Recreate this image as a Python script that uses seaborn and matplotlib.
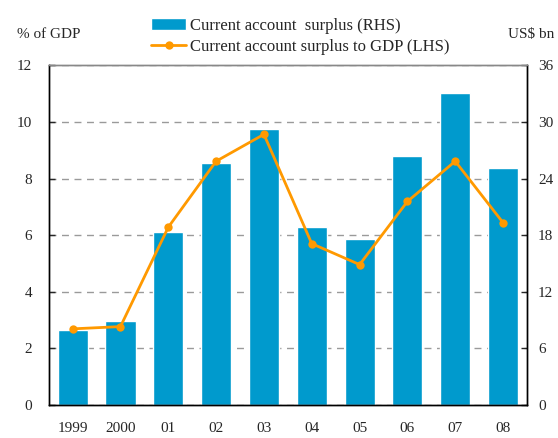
import numpy as np
import pandas as pd
import matplotlib
matplotlib.use("Agg")
import matplotlib.pyplot as plt
from matplotlib.ticker import FixedLocator
import seaborn as sns

years = ["1999", "2000", "01", "02", "03", "04", "05", "06", "07", "08"]
surplus_usd = [8.0, 8.85, 18.3, 25.6, 29.2, 18.85, 17.55, 26.35, 33.05, 25.1]
surplus_pct = [2.69, 2.77, 6.28, 8.61, 9.56, 5.70, 4.96, 7.19, 8.61, 6.44]
left_ticks = [0, 2, 4, 6, 8, 10, 12]
right_ticks = [0, 6, 12, 18, 24, 30, 36]

bar_label = "Current account  surplus (RHS)"
line_label = "Current account surplus to GDP (LHS)"

df = pd.DataFrame({"year": years, "usd": surplus_usd, "pct": surplus_pct})

sns.set_style("white")
plt.rcParams["font.family"] = ["Liberation Serif", "DejaVu Serif"]
plt.rcParams["font.size"] = 11

fig = plt.figure(figsize=(5.58, 4.38), dpi=100)
ax = fig.add_axes([0.0873, 0.0753, 0.8571, 0.7757])
ax2 = ax.twinx()

# bars on the right axis, gridlines behind them
sns.barplot(data=df, x="year", y="usd", ax=ax2, color="#009ACD", width=0.63,
            saturation=1, label=bar_label)
ax2.set_ylim(0, 36)
ax2.yaxis.set_major_locator(FixedLocator(right_ticks))
ax2.set_axisbelow(True)
ax2.yaxis.grid(True, linestyle=(0, (5, 4)), color="#9a9a9a", linewidth=1)
ax2.set_ylabel("")
if ax2.get_legend() is not None:
    ax2.get_legend().remove()

# line on the left axis, drawn on top
ax.set_zorder(ax2.get_zorder() + 1)
ax.patch.set_visible(False)
sns.lineplot(data=df, x="year", y="pct", ax=ax, sort=False, color="#FF9900",
             linewidth=2, marker="o", markersize=6, markeredgewidth=0,
             label=line_label)
ax.set_ylim(0, 12)
ax.set_xlim(-0.5, len(years) - 0.5)
ax.yaxis.set_major_locator(FixedLocator(left_ticks))
ax.set_ylabel("")
ax.set_xlabel("")
ax2.set_xlabel("")
ax.get_legend().remove()

# x ticks: labels at categories, small tick marks between them
ax.set_xticks(range(len(years)))
ax.set_xticklabels(years)
ax.set_xticks(np.arange(0.5, len(years) - 1, 1), minor=True)
ax.tick_params(axis="x", which="major", length=0, pad=12, labelsize=11)
ax.tick_params(axis="x", which="minor", direction="in", length=4, width=1, color="black")
ax.tick_params(axis="y", direction="in", length=4, width=1, pad=12, labelsize=11)
ax2.tick_params(axis="y", direction="in", length=4, width=1, pad=8, labelsize=11)
ax2.tick_params(axis="x", length=0)

for a in (ax, ax2):
    for side in ("left", "right", "bottom"):
        a.spines[side].set_color("black")
        a.spines[side].set_linewidth(1)
    a.spines["top"].set_color("#888888")
    a.spines["top"].set_linewidth(1)

fig.text(0.03, 0.922, "% of GDP", fontsize=11, va="center", ha="left")
fig.text(0.91, 0.922, "US$ bn", fontsize=11, va="center", ha="left")

handles = ax2.get_legend_handles_labels()[0] + ax.get_legend_handles_labels()[0]
labels = [bar_label, line_label]
fig.legend(handles, labels, loc="upper left", bbox_to_anchor=(0.259, 0.975),
           frameon=False, fontsize=12, handlelength=2.1, handletextpad=0.25,
           labelspacing=0.3, borderaxespad=0)

fig.savefig("out.png", dpi=100)
